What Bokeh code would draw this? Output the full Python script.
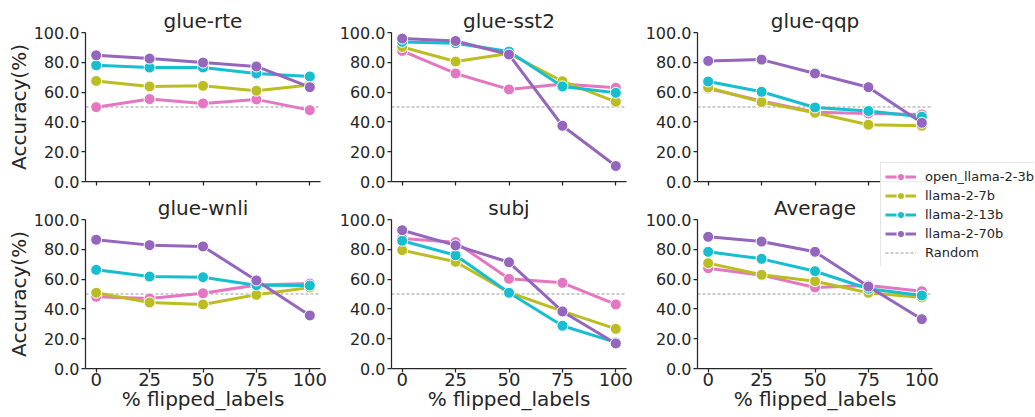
import numpy as np
from bokeh.plotting import figure
from bokeh.layouts import row, column
from bokeh.models import Range1d, FixedTicker, PrintfTickFormatter, Legend, LegendItem
from bokeh.embed import file_html
from bokeh.resources import INLINE

# ---------------- data ----------------
FLIPPED = [0, 25, 50, 75, 100]
MODELS = ["open_llama-2-3b", "llama-2-7b", "llama-2-13b", "llama-2-70b"]
COLORS = ["#e377c2", "#bcbd22", "#17becf", "#9467bd"]
RANDOM = 50.0
Y_TICKS = [0, 20, 40, 60, 80, 100]

glue_rte_open_llama_3b = [49.9, 55.3, 52.4, 55.1, 47.9]
glue_rte_llama_7b = [67.5, 63.8, 64.2, 60.9, 64.8]
glue_rte_llama_13b = [78.0, 76.5, 76.5, 72.5, 70.5]
glue_rte_llama_70b = [84.7, 82.5, 79.8, 77.2, 63.3]

glue_sst2_open_llama_3b = [87.6, 72.5, 61.8, 65.5, 62.9]
glue_sst2_llama_7b = [90.3, 80.5, 85.9, 67.3, 53.5]
glue_sst2_llama_13b = [93.7, 92.8, 87.2, 63.8, 59.5]
glue_sst2_llama_70b = [95.9, 94.3, 85.2, 37.4, 10.4]

glue_qqp_open_llama_3b = [62.4, 54.0, 46.5, 45.7, 45.0]
glue_qqp_llama_7b = [63.1, 53.3, 46.1, 38.1, 37.4]
glue_qqp_llama_13b = [67.1, 60.2, 49.7, 47.3, 43.5]
glue_qqp_llama_70b = [80.9, 81.8, 72.5, 63.3, 39.4]

glue_wnli_open_llama_3b = [48.1, 47.0, 50.5, 56.0, 57.0]
glue_wnli_llama_7b = [50.8, 44.3, 43.0, 49.5, 54.4]
glue_wnli_llama_13b = [66.2, 61.7, 61.3, 55.9, 55.7]
glue_wnli_llama_70b = [86.4, 82.8, 81.9, 59.1, 35.6]

subj_open_llama_3b = [87.2, 84.8, 60.2, 57.5, 43.0]
subj_llama_7b = [79.4, 71.6, 51.0, 38.5, 26.6]
subj_llama_13b = [85.7, 76.0, 50.8, 28.7, 17.5]
subj_llama_70b = [92.8, 82.6, 71.3, 38.3, 16.8]

average_open_llama_3b = [67.3, 62.6, 54.4, 55.7, 51.9]
average_llama_7b = [70.7, 62.9, 58.6, 50.8, 47.7]
average_llama_13b = [78.3, 73.6, 65.3, 53.5, 49.0]
average_llama_70b = [88.4, 85.2, 78.3, 55.0, 33.1]

PANELS = [
    ("glue-rte", [glue_rte_open_llama_3b, glue_rte_llama_7b, glue_rte_llama_13b, glue_rte_llama_70b]),
    ("glue-sst2", [glue_sst2_open_llama_3b, glue_sst2_llama_7b, glue_sst2_llama_13b, glue_sst2_llama_70b]),
    ("glue-qqp", [glue_qqp_open_llama_3b, glue_qqp_llama_7b, glue_qqp_llama_13b, glue_qqp_llama_70b]),
    ("glue-wnli", [glue_wnli_open_llama_3b, glue_wnli_llama_7b, glue_wnli_llama_13b, glue_wnli_llama_70b]),
    ("subj", [subj_open_llama_3b, subj_llama_7b, subj_llama_13b, subj_llama_70b]),
    ("Average", [average_open_llama_3b, average_llama_7b, average_llama_13b, average_llama_70b]),
]

X_LO, X_HI = -5, 105
FONT = "DejaVu Sans"
TXT = "#262626"
GREY = "#999999"

# layout geometry (pixels)
FRAME_W, FRAME_H = 235, 149
LEFT_B = [85, 61, 61]
RIGHT_B = [10, 10, 102]
TOP_B = [32, 26]
BOTTOM_B = [12, 48]


def make_panel(idx):
    title, series = PANELS[idx]
    r, c = divmod(idx, 3)
    p = figure(frame_width=FRAME_W, frame_height=FRAME_H,
               min_border_left=LEFT_B[c], min_border_right=RIGHT_B[c],
               min_border_top=TOP_B[r], min_border_bottom=BOTTOM_B[r],
               x_range=Range1d(X_LO, X_HI), y_range=Range1d(0, 100),
               output_backend="svg", toolbar_location=None, title=title)
    p.title.text_font = FONT
    p.title.text_font_size = "20px"
    p.title.text_font_style = "normal"
    p.title.text_color = TXT
    p.title.align = "center"
    p.title.standoff = 0
    p.outline_line_color = None
    p.xgrid.visible = False
    p.ygrid.visible = False

    p.xaxis.ticker = FixedTicker(ticks=FLIPPED)
    p.yaxis.ticker = FixedTicker(ticks=Y_TICKS)
    p.yaxis.formatter = PrintfTickFormatter(format="%.1f")
    for ax in (p.xaxis, p.yaxis):
        ax.axis_line_color = TXT
        ax.axis_line_width = 1.25
        ax.major_tick_line_color = TXT
        ax.major_tick_line_width = 1.25
        ax.major_tick_out = 4
        ax.major_tick_in = 0
        ax.minor_tick_out = 0
        ax.minor_tick_in = 0
        ax.major_label_text_font = FONT
        ax.major_label_text_color = TXT
        ax.axis_label_text_font = FONT
        ax.axis_label_text_font_size = "20px"
        ax.axis_label_text_font_style = "normal"
        ax.axis_label_text_color = TXT
    p.yaxis.major_label_text_font_size = "16px"
    p.yaxis.major_label_standoff = 2
    p.yaxis.axis_label_standoff = 0
    if c == 0:
        p.yaxis.axis_label = "Accuracy(%)"
    if r == 0:
        p.xaxis.major_label_overrides = {t: "" for t in FLIPPED}
        p.xaxis.major_label_text_font_size = "5px"
        p.xaxis.major_label_standoff = 0
    else:
        p.xaxis.major_label_text_font_size = "18px"
        p.xaxis.major_label_standoff = 0
        p.xaxis.axis_label = "% flipped_labels"
        p.xaxis.axis_label_standoff = -2

    p.line([X_LO, X_HI], [RANDOM, RANDOM], line_color=GREY, line_width=1.2, line_dash="3 2")
    for vals, col in zip(series, COLORS):
        p.line(FLIPPED, vals, line_color=col, line_width=3)
        p.scatter(FLIPPED, vals, size=11, fill_color=col, line_color="white", line_width=1)
    return p


def make_legend_figure(w, h, left, top):
    p = figure(width=w, height=h, min_border=0, x_range=Range1d(0, 1), y_range=Range1d(0, 1),
               x_axis_type=None, y_axis_type=None, output_backend="svg", toolbar_location=None)
    p.outline_line_color = None
    p.xgrid.visible = False
    p.ygrid.visible = False
    p.background_fill_alpha = 0
    p.border_fill_alpha = 0
    nan = np.array([np.nan])
    items = []
    for m, c in zip(MODELS, COLORS):
        lr = p.line(nan, nan, line_color=c, line_width=3)
        sr = p.scatter(nan, nan, size=10, fill_color=c, line_color="white", line_width=1.5)
        items.append(LegendItem(label=m, renderers=[lr, sr]))
    rr = p.line(nan, nan, line_color=GREY, line_width=1.2, line_dash="3 2")
    items.append(LegendItem(label="Random", renderers=[rr]))
    leg = Legend(items=items, location="top_left", margin=0, padding=4, spacing=0,
                 glyph_width=31, glyph_height=19, label_height=19, label_standoff=9,
                 label_text_font=FONT, label_text_font_size="13px", label_text_color=TXT,
                 border_line_color="#cccccc", border_line_width=1,
                 background_fill_color="white", background_fill_alpha=0.92)
    p.add_layout(leg, "center")
    p.styles = {"position": "absolute", "left": f"{left}px", "top": f"{top}px", "z-index": "10"}
    return p


figs = [make_panel(i) for i in range(6)]
layout = column(row(*figs[:3]), row(*figs[3:]))
layout.styles = {"position": "absolute", "left": "0px", "top": "0px"}
leg_fig = make_legend_figure(154, 104, 880, 162)

open("out.html", "w").write(file_html([layout, leg_fig], INLINE))
